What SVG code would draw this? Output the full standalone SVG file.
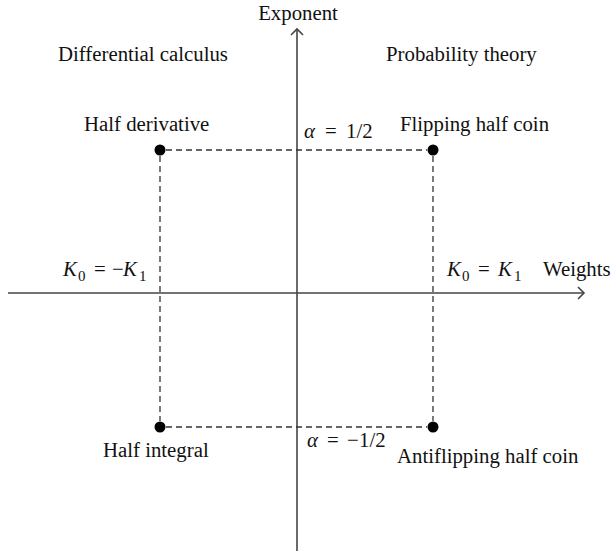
<svg xmlns="http://www.w3.org/2000/svg" width="612" height="554" viewBox="0 0 612 554">
<style>
text{font-family:"Liberation Serif","DejaVu Serif","Times New Roman",serif;font-size:20.8px;fill:#111}
.it{font-style:italic}
.sub{font-size:15px}
.axis{stroke:#454545;stroke-width:1.6;fill:none}
.dash{stroke:#333;stroke-width:1.3;stroke-dasharray:6 4;fill:none}
.dot{fill:#000}
</style>
<rect width="612" height="554" fill="#fff"/>
<g id="connectors">
<line class="axis" x1="8" y1="293" x2="584" y2="293"/>
<polyline class="axis" points="578,287 584,293 578,299"/>
<line class="axis" x1="297" y1="551" x2="297" y2="29"/>
<polyline class="axis" points="291,35 297,29 303,35"/>
<line class="dash" x1="166" y1="150" x2="427" y2="150"/>
<line class="dash" x1="166" y1="427" x2="427" y2="427"/>
<line class="dash" x1="160" y1="156" x2="160" y2="421"/>
<line class="dash" x1="433" y1="156" x2="433" y2="421"/>
</g>
<g id="axis-labels">
<text x="298" y="20" text-anchor="middle">Exponent</text>
<text x="543" y="276">Weights</text>
<text x="58" y="61">Differential calculus</text>
<text x="386" y="61">Probability theory</text>
</g>
<g id="half-derivative">
<circle class="dot" cx="160" cy="150" r="5.5"/>
<text x="84" y="131">Half derivative</text>
</g>
<g id="flipping-half-coin">
<circle class="dot" cx="433" cy="150" r="5.5"/>
<text x="400" y="131">Flipping half coin</text>
</g>
<g id="half-integral">
<circle class="dot" cx="160" cy="427" r="5.5"/>
<text x="103" y="457">Half integral</text>
</g>
<g id="antiflipping-half-coin">
<circle class="dot" cx="433" cy="427" r="5.5"/>
<text x="397" y="463">Antiflipping half coin</text>
</g>
<g id="alpha-labels">
<text y="138"><tspan class="it" x="304">α</tspan><tspan x="325">=</tspan><tspan x="346">1/2</tspan></text>
<text y="447"><tspan class="it" x="307">α</tspan><tspan x="327">=</tspan><tspan x="347">−</tspan><tspan x="359">1/2</tspan></text>
</g>
<g id="k-labels">
<text y="276"><tspan class="it" x="63">K</tspan><tspan class="sub" x="78" dy="5">0</tspan><tspan x="94" dy="-5">=</tspan><tspan x="112">−</tspan><tspan class="it" x="123">K</tspan><tspan class="sub" x="139" dy="5">1</tspan></text>
<text y="276"><tspan class="it" x="447">K</tspan><tspan class="sub" x="462" dy="5">0</tspan><tspan x="478" dy="-5">=</tspan><tspan class="it" x="498">K</tspan><tspan class="sub" x="514" dy="5">1</tspan></text>
</g>
</svg>
